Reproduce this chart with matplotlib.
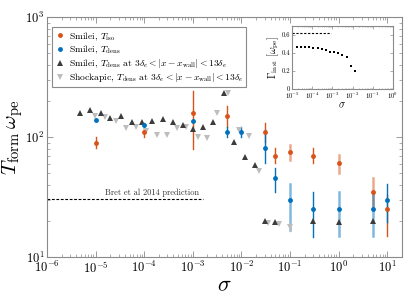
import numpy as np
import matplotlib
matplotlib.use('Agg')
import matplotlib.pyplot as plt
from matplotlib.ticker import LogLocator, NullFormatter

plt.rcParams['font.family'] = ['cmr10', 'DejaVu Serif']
plt.rcParams['mathtext.fontset'] = 'cm'
plt.rcParams['axes.unicode_minus'] = False
plt.rcParams['axes.formatter.use_mathtext'] = True

# Smilei, T_iso
iso_sigma = [1e-5, 1e-4, 1e-3, 5e-3, 0.03, 0.05, 0.1, 0.3, 1, 5, 10]
iso_T = [89, 110, 158, 150, 110, 69.5, 75, 69.5, 61, 35, 25]
iso_lo = [81, 100, 79, 121, 91, 61, 64, 61, 50, 25, 15]
iso_hi = [100, 118, 242, 181, 131, 81, 86, 81, 71, 45.5, 33]

# Smilei, T_dens
dens_sigma = [1e-5, 1e-4, 1e-3, 5e-3, 0.01, 0.03, 0.05, 0.1, 0.3, 1, 5, 10]
dens_T = [139, 126, 136, 110, 110, 81, 45.5, 30, 25, 25, 25, 30]
dens_lo = [139, 122, 136, 100, 100, 61, 35, 16.8, 14.7, 15, 15, 19.5]
dens_hi = [139, 130, 136, 121, 121, 114, 55, 40.5, 35, 35, 35, 40.5]

# Smilei, T_dens at 3de < |x - xwall| < 13de
smw_sigma = [4.8e-6, 7.6e-6, 1.3e-5, 2.0e-5, 3.3e-5, 5.6e-5, 9e-5, 1.45e-4, 2.4e-4,
             3.9e-4, 6.2e-4, 1e-3, 1.6e-3, 2.6e-3, 4.3e-3, 6.9e-3, 1.17e-2, 1.86e-2,
             3.0e-2, 4.8e-2, 0.3, 1.0, 5.0]
smw_T = [158, 168, 158, 145, 150, 133, 133, 137, 141, 133, 126, 117, 121, 133, 233,
         91, 68, 58, 20, 19.6, 20, 19.4, 20]

# Shockapic, T_dens at 3de < |x - xwall| < 13de
spc_sigma = [9.8e-6, 1.55e-5, 2.6e-5, 4.2e-5, 6.8e-5, 1.07e-4, 1.8e-4, 2.9e-4, 4.7e-4,
             7.4e-4, 1.26e-3, 2.0e-3, 3.2e-3, 5.2e-3, 8.7e-3, 1.4e-2, 2.3e-2, 3.6e-2,
             6.0e-2, 9.8e-2]
spc_T = [150, 147, 136, 119, 121, 112, 104, 104, 119, 121, 100, 98, 158, 233, 114,
         102, 52, 19.2, 18.8, 17.8]

# Bret et al 2014 prediction
bret_T = 30.4
bret_sigma = [1e-6, 1.6e-3]

# inset: growth rate
gam_sigma = [1e-5, 1.78e-5, 2.8e-5, 4.4e-5, 6.9e-5, 1.1e-4, 1.95e-4, 3.1e-4, 4.8e-4,
             7.6e-4, 1.2e-3, 1.86e-3, 3.0e-3, 5.2e-3, 8.3e-3, 1.3e-2]
gam = [0.467, 0.467, 0.467, 0.467, 0.467, 0.46, 0.455, 0.444, 0.433, 0.411, 0.411,
       0.40, 0.378, 0.356, 0.256, 0.20]
gam_bret = 0.622
gam_bret_sigma = [1e-5, 9e-4]

c_iso = '#D95319'
c_dens = '#0072BD'
c_smw = '#3c3c3c'
c_spc = '#bdbdbd'
spine_c = '#8a8a8a'
faint = {0.1, 1, 5}

fig = plt.figure(figsize=(4.07, 3.04), dpi=100)
ax = fig.add_axes([0.1155, 0.1546, 0.872, 0.789])


def bars(xs, ys, lo, hi, color):
    for x, y, l, h in zip(xs, ys, lo, hi):
        if h - l <= 0:
            continue
        if x in faint:
            ax.plot([x, x], [l, h], color=color, alpha=0.5, lw=1.8, zorder=2)
        else:
            ax.plot([x, x], [l, h], color=color, lw=1.0, zorder=2)


bars(iso_sigma, iso_T, iso_lo, iso_hi, c_iso)
bars(dens_sigma, dens_T, dens_lo, dens_hi, c_dens)
ax.plot([0.1, 0.1], [16.5, 19.2], color=c_spc, lw=1.0, zorder=2)

ax.plot(bret_sigma, [bret_T, bret_T], 'k--', lw=0.8, dashes=(2.5, 1.5))
ax.text(bret_sigma[1] * 0.85, bret_T * 1.05, 'Bret et al 2014 prediction',
        ha='right', va='bottom', fontsize=6, color='#333333')

h4, = ax.plot(spc_sigma, spc_T, 'v', color=c_spc, ms=5, mew=0, ls='none', zorder=3)
h3, = ax.plot(smw_sigma, smw_T, '^', color=c_smw, ms=5, mew=0, ls='none', zorder=3)
h1, = ax.plot(iso_sigma, iso_T, 'o', color=c_iso, ms=3.5, mew=0, ls='none', zorder=4)
h2, = ax.plot(dens_sigma, dens_T, 'o', color=c_dens, ms=3.5, mew=0, ls='none', zorder=4)

ax.set_xscale('log')
ax.set_yscale('log')
ax.set_xlim(1e-6, 20)
ax.set_ylim(10, 1000)
ax.xaxis.set_major_locator(LogLocator(base=10, numticks=20))
ax.xaxis.set_minor_locator(LogLocator(base=10, subs=np.arange(2, 10), numticks=20))
ax.xaxis.set_minor_formatter(NullFormatter())
ax.yaxis.set_minor_formatter(NullFormatter())
ax.tick_params(which='both', direction='in', top=True, right=True, color=spine_c,
               labelsize=9, pad=2)
ax.tick_params(which='major', length=4, width=0.6)
ax.tick_params(which='minor', length=2, width=0.5)
for s in ax.spines.values():
    s.set_color(spine_c)
    s.set_linewidth(0.8)
ax.set_xlabel(r'$\sigma$', fontsize=16, labelpad=0)
ax.set_ylabel(r'$T_{\rm form}\,\omega_{\rm pe}$', fontsize=15, labelpad=0)

leg = ax.legend([h1, h2, h3, h4],
                [r'Smilei, $T_{\rm iso}$',
                 r'Smilei, $T_{\rm dens}$',
                 r'Smilei, $T_{\rm dens}$ at $3\delta_e < |x-x_{\rm wall}| < 13\delta_e$',
                 r'Shockapic, $T_{\rm dens}$ at $3\delta_e < |x-x_{\rm wall}| < 13\delta_e$'],
                loc='upper left', bbox_to_anchor=(0.014, 0.958), borderaxespad=0,
                fontsize=6.9, fancybox=False, framealpha=1, edgecolor=spine_c,
                handlelength=1.0, handletextpad=0.5, labelspacing=0.12,
                borderpad=0.3, markerscale=1.0)
leg.get_frame().set_linewidth(0.8)

# inset
ax2 = fig.add_axes([0.7174, 0.7072, 0.248, 0.207])
ax2.plot(gam_bret_sigma, [gam_bret, gam_bret], 'k--', lw=0.8, dashes=(2, 1.5))
ax2.plot(gam_sigma, gam, 's', color='k', ms=1.5, mew=0, ls='none')
ax2.set_xscale('log')
ax2.set_xlim(1e-5, 1)
ax2.set_ylim(0, 0.7)
ax2.set_yticks([0, 0.2, 0.4, 0.6])
ax2.set_yticklabels(['0', '0.2', '0.4', '0.6'])
ax2.xaxis.set_major_locator(LogLocator(base=10, numticks=10))
ax2.xaxis.set_minor_locator(LogLocator(base=10, subs=np.arange(2, 10), numticks=10))
ax2.xaxis.set_minor_formatter(NullFormatter())
ax2.tick_params(which='both', direction='in', top=True, right=True, color=spine_c,
                labelsize=4.8, pad=1)
ax2.tick_params(which='major', length=2, width=0.5)
ax2.tick_params(which='minor', length=1, width=0.4)
for s in ax2.spines.values():
    s.set_color(spine_c)
    s.set_linewidth(0.8)
ax2.set_xlabel(r'$\sigma$', fontsize=7.5, labelpad=0)
ax2.set_ylabel(r'$\Gamma_{\rm inst}\ [\omega_{\rm pe}]$', fontsize=7.5, labelpad=1)

fig.savefig('out.png', dpi=100)
